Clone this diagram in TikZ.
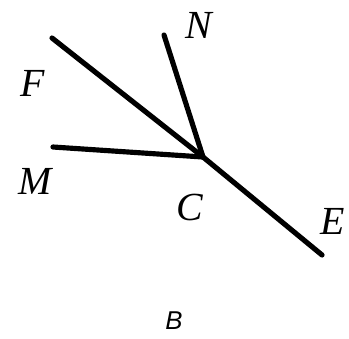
\documentclass[tikz,border=0pt]{standalone}
\usepackage{fontspec}
\setmainfont{Liberation Serif}
\setsansfont{Liberation Sans}
\begin{document}
\begin{tikzpicture}[x=0.03cm,y=-0.03cm,
  seg/.style={line width=4.4pt,line cap=round},
  lbl/.style={font=\fontsize{34}{40}\selectfont\itshape,inner sep=0pt},
  captxt/.style={font=\fontsize{22}{26}\selectfont\sffamily\itshape,inner sep=0pt}]
\useasboundingbox (0,0) rectangle (349,338);
\coordinate (C) at (203,157);
\coordinate (F) at (52,38);
\coordinate (N) at (164,35);
\coordinate (M) at (53,147);
\coordinate (E) at (322,255);
\draw[seg] (C) -- (F);
\draw[seg] (C) -- (N);
\draw[seg] (C) -- (M);
\draw[seg] (C) -- (E);
\node[lbl] (lF) at (33,83) {F};
\node[lbl] (lN) at (199,25) {N};
\node[lbl] (lM) at (35,181) {M};
\node[lbl] (lC) at (190,207) {C};
\node[lbl] (lE) at (333,221) {E};
\node[captxt] (lB) at (174,321) {B};
\end{tikzpicture}
\end{document}
